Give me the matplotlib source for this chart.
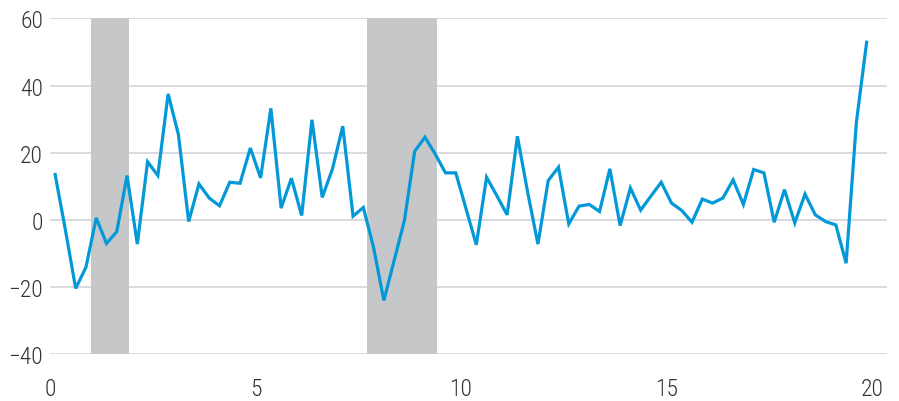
# Quarterly series with shaded periods, recreated from reference
import numpy as np
import matplotlib.pyplot as plt
from matplotlib import font_manager

# Data (quarterly values)
quarter_x = np.arange(80) * 0.25 + 0.125
values = [
    13.5, -3.0, -20.4, -14.1, 0.6, -7.0, -3.5, 13.2,
    -7.2, 17.3, 13.2, 37.5, 25.4, -0.5, 10.7, 6.5,
    4.2, 11.2, 10.9, 21.4, 12.5, 33.2, 3.5, 12.4,
    1.3, 29.8, 6.7, 15.2, 27.9, 1.1, 3.7, -8.2,
    -24.0, -12.1, -0.2, 20.4, 24.6, 19.6, 14.0, 14.0,
    3.3, -7.4, 12.7, 7.2, 1.5, 24.9, 8.2, -7.2,
    11.7, 15.7, -1.2, 4.1, 4.6, 2.5, 15.2, -1.7,
    9.5, 2.9, 7.1, 11.2, 5.0, 2.8, -0.7, 6.2,
    5.0, 6.5, 11.9, 4.6, 15.0, 14.0, -0.7, 9.0,
    -0.9, 7.7, 1.5, -0.5, -1.5, -12.9, 29.1, 52.9,
]
shaded_spans = [(0.99, 1.93), (7.72, 9.42)]
x_ticks = [0, 5, 10, 15, 20]
y_ticks = [-40, -20, 0, 20, 40, 60]

# Font: narrow face if one is installed, else condensed DejaVu
names = {f.name for f in font_manager.fontManager.ttflist}
narrow = [n for n in ['Roboto Condensed', 'Liberation Sans Narrow', 'Open Sans Condensed']
          if n in names]
plt.rcParams['font.family'] = narrow + ['DejaVu Sans']
plt.rcParams['font.stretch'] = 'condensed'
plt.rcParams['font.weight'] = 'light'

fig = plt.figure(figsize=(8.99, 4.02), dpi=100)
ax = fig.add_axes([50 / 899, 1 - 355.3 / 402, (887 - 50) / 899, (355.3 - 19.3) / 402])

for x0, x1 in shaded_spans:
    ax.axvspan(x0, x1, color='#c6c7c9', lw=0, zorder=1)

ax.plot(quarter_x, values, color='#0399d8', lw=2.3, zorder=3, solid_joinstyle='miter')

ax.set_xlim(0, 20.37)
ax.set_ylim(-40, 60)
ax.set_xticks(x_ticks)
ax.set_yticks(y_ticks)
ax.grid(axis='y', color='#cdd2d9', lw=1.1, zorder=0)
ax.set_axisbelow(True)
for s in ax.spines.values():
    s.set_visible(False)
ax.tick_params(length=0, labelsize=17, labelcolor='#333333')
ax.tick_params(axis='y', pad=5)
ax.tick_params(axis='x', pad=16)

fig.savefig('out.png', dpi=100)
plt.close()
